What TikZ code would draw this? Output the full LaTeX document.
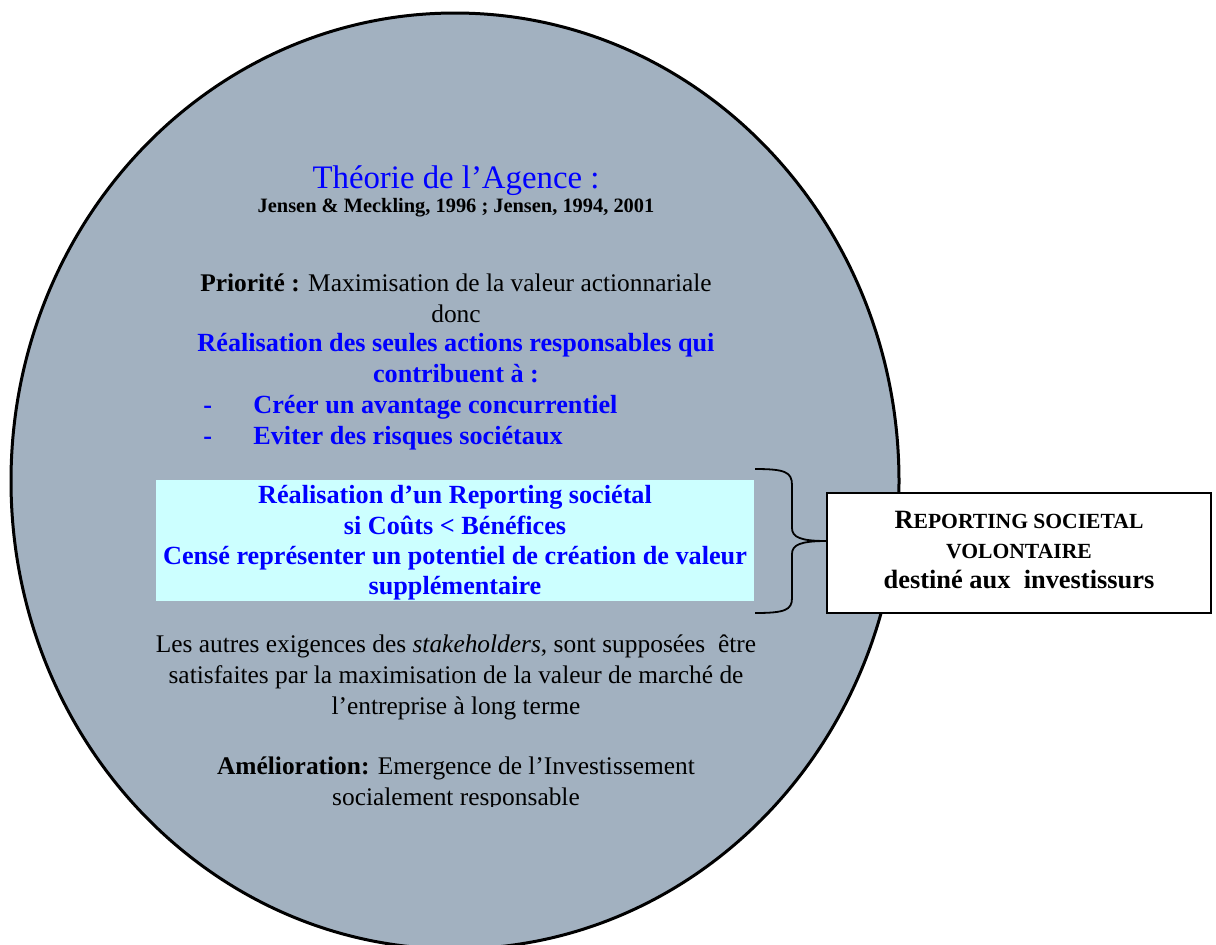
\documentclass[tikz,border=0pt]{standalone}
\usepackage{fontspec}
\setmainfont{Liberation Serif}
\usetikzlibrary{shapes.geometric}
\definecolor{grisbleu}{RGB}{162,177,192}
\definecolor{cyanpale}{RGB}{204,255,255}
\newcommand{\petcap}[1]{{\fontsize{10.8}{13}\selectfont #1}}

\begin{document}
\begin{tikzpicture}[x=0.5pt,y=-0.5pt]
    \tikzstyle{theorie}=[draw=black,line width=1.5pt,fill=grisbleu,shape=ellipse,inner sep=0pt]
    \tikzstyle{texte}=[align=center,inner sep=0pt,font=\fontsize{12.7}{15.5}\selectfont]
    \tikzstyle{bleu}=[texte,text=blue,font=\fontsize{13.1}{15.3}\selectfont\bfseries]
    \tikzstyle{cadre}=[draw=black,line width=0.9pt,fill=white,align=center,inner sep=0pt]

    \useasboundingbox (0,0) rectangle (1216,944);
    \clip (0,0) rectangle (1216,944);

    \node[theorie, minimum width=444pt, minimum height=468pt] at (455,481) (agence) {};

    \node[texte, text=blue, font=\fontsize{16.4}{19}\selectfont] at (456,181) (titre) {Théorie de l’Agence :};
    \node[texte, font=\fontsize{10.2}{12}\selectfont\bfseries] at (456,208) (auteurs) {Jensen \& Meckling, 1996 ; Jensen, 1994, 2001};

    \node[texte] at (456,298) (priorite) {\textbf{Priorité :} Maximisation de la valeur actionnariale\\ donc};
    \node[bleu] at (456,358) (actions) {Réalisation des seules actions responsables qui\\ contribuent à :};
    \node[bleu, anchor=base west] at (203,413) (tiret1) {-};
    \node[bleu, anchor=base west] at (253,413) (item1) {Créer un avantage concurrentiel};
    \node[bleu, anchor=base west] at (203,444) (tiret2) {-};
    \node[bleu, anchor=base west] at (253,444) (item2) {Eviter des risques sociétaux};

    \node[fill=cyanpale, minimum width=299pt, minimum height=60.5pt] at (455,540.5) (reporting) {};
    \node[bleu, font=\fontsize{13.1}{15.15}\selectfont\bfseries] at (455,543) (reportexte) {Réalisation d’un Reporting sociétal\\ si Coûts < Bénéfices\\ Censé représenter un potentiel de création de valeur\\ supplémentaire};

    \node[texte] at (456,677) (autres) {Les autres exigences des \textit{stakeholders}, sont supposées~ être\\ satisfaites par la maximisation de la valeur de marché de\\ l’entreprise à long terme};

    \begin{scope}
        \clip (0,0) rectangle (1216,806);
        \node[texte] at (456,784) (amelioration) {\textbf{Amélioration:} Emergence de l’Investissement\\ socialement responsable};
    \end{scope}

    \node[cadre, minimum width=192pt, minimum height=60pt] at (1019,553) (volontaire) {};
    \node[align=center, inner sep=0pt, font=\fontsize{13.2}{14.8}\selectfont\bfseries] at (1019,550) (volontexte) {R\petcap{EPORTING SOCIETAL}\\ \petcap{VOLONTAIRE}\\ destiné aux~ investissurs};

    % accolade
    \coordinate (haut) at (755,469);
    \coordinate (bas) at (755,613);
    \coordinate (pointe) at ([yshift=6pt]volontaire.west);
    \draw[line width=0.9pt] (haut) .. controls (785,469) and (792,472) .. (792,485) -- (792,528)
        .. controls (792,537) and (800,541) .. (pointe)
        .. controls (800,541) and (792,545) .. (792,554) -- (792,598)
        .. controls (792,610) and (785,613) .. (bas);
\end{tikzpicture}
\end{document}
